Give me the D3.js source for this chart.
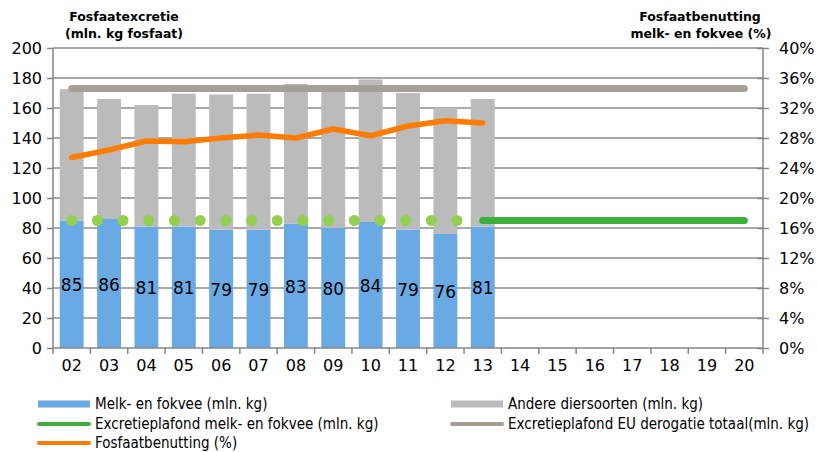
<!DOCTYPE html>
<html>
<head>
<meta charset="utf-8">
<script src="https://cdn.jsdelivr.net/npm/d3@7"></script>
<style>
  body { margin: 0; background: #fff; }
  svg { display: block; }
</style>
</head>
<body>
<script>
// data
let years = ["02","03","04","05","06","07","08","09","10","11","12","13","14","15","16","17","18","19","20"];
let melkVee = [85, 86, 81, 81, 79, 79, 83, 80, 84, 79, 76, 81];
let andere = [87.5, 80, 81, 88.5, 90, 90.5, 93, 95, 95, 91, 84, 85];
let benutting = [25.4, 26.4, 27.6, 27.5, 28.0, 28.4, 28.0, 29.2, 28.3, 29.6, 30.3, 30.0];
let plafondMelk = 85;
let plafondEU = 173;
let leftTicks = [0, 20, 40, 60, 80, 100, 120, 140, 160, 180, 200];
let rightTicks = [0, 4, 8, 12, 16, 20, 24, 28, 32, 36, 40];

let W = 818, H = 452;
let m = {left: 53, right: 763, top: 48, bottom: 348};
let font = "Verdana, 'DejaVu Sans', sans-serif";

let svg = d3.select("body").append("svg").attr("width", W).attr("height", H);

let x = d3.scaleBand().domain(years).range([m.left, m.right]).paddingInner(0.36).paddingOuter(0.18);
let xc = d => x(d) + x.bandwidth() / 2;
let y = d3.scaleLinear().domain([0, 200]).range([m.bottom, m.top]);
let y2 = d3.scaleLinear().domain([0, 40]).range([m.bottom, m.top]);

// gridlines
svg.append("g").selectAll("line").data(leftTicks.slice(1)).enter().append("line")
    .attr("x1", m.left).attr("x2", m.right)
    .attr("y1", d => y(d)).attr("y2", d => y(d))
    .attr("stroke", "#8c8c8c").attr("stroke-width", 1.5);

// bars
let bars = svg.append("g");
bars.selectAll("rect.melk").data(melkVee).enter().append("rect")
    .attr("x", (d, i) => x(years[i])).attr("width", x.bandwidth())
    .attr("y", d => y(d)).attr("height", d => y(0) - y(d))
    .attr("fill", "#6aaae4");
bars.selectAll("rect.andere").data(andere).enter().append("rect")
    .attr("x", (d, i) => x(years[i])).attr("width", x.bandwidth())
    .attr("y", (d, i) => y(d + melkVee[i])).attr("height", d => y(0) - y(d))
    .attr("fill", "#bbbbbb");

// axes
let yAxis = svg.append("g").attr("transform", `translate(${m.left},0)`)
    .call(d3.axisLeft(y).tickValues(leftTicks).tickSize(6).tickPadding(5));
let yAxis2 = svg.append("g").attr("transform", `translate(${m.right},0)`)
    .call(d3.axisRight(y2).tickValues(rightTicks).tickSize(6).tickPadding(10).tickFormat(d => d + "%"));
let xAxis = svg.append("g").attr("transform", `translate(0,${m.bottom})`)
    .call(d3.axisBottom(x).tickSize(0).tickPadding(12));
[yAxis, yAxis2, xAxis].forEach(g => {
    g.selectAll("path, line").attr("stroke", "#868686").attr("stroke-width", 1.5);
    g.selectAll("text").attr("font-family", font).attr("font-size", 16).attr("fill", "#000");
});
yAxis.select(".domain").attr("d", `M0,${m.top}V${m.bottom}`);
yAxis2.select(".domain").attr("d", `M0,${m.top}V${m.bottom}`);
xAxis.select(".domain").attr("d", `M${m.left},0H${m.right}`);
yAxis2.selectAll("line").attr("x1", -6).attr("x2", 6);
// x tick marks between categories
xAxis.append("g").selectAll("line").data(d3.range(years.length + 1)).enter().append("line")
    .attr("x1", i => m.left + i * (m.right - m.left) / years.length)
    .attr("x2", i => m.left + i * (m.right - m.left) / years.length)
    .attr("y1", 0).attr("y2", 6)
    .attr("stroke", "#868686").attr("stroke-width", 1.5);

// EU plafond line
let line = d3.line().x(d => xc(d[0])).y(d => d[1]);
svg.append("path")
    .attr("d", line(years.map(d => [d, y(plafondEU)])))
    .attr("fill", "none").attr("stroke", "#a69f97").attr("stroke-width", 7).attr("stroke-linecap", "round");

// melk plafond: dotted through 13, solid after
let solidYears = years.slice(11);
svg.append("path")
    .attr("d", line(solidYears.map(d => [d, y(plafondMelk)])))
    .attr("fill", "none").attr("stroke", "#3cb03a").attr("stroke-width", 7).attr("stroke-linecap", "round");
let dotYears = years.slice(0, 12);
svg.append("path")
    .attr("d", line(dotYears.map(d => [d, y(plafondMelk)])))
    .attr("fill", "none").attr("stroke", "#92d050").attr("stroke-width", 11)
    .attr("stroke-linecap", "round").attr("stroke-dasharray", "0," + ((xc("13") - xc("02")) / 16).toFixed(3));

// benutting line
svg.append("path")
    .attr("d", line(benutting.map((v, i) => [years[i], y2(v)])))
    .attr("fill", "none").attr("stroke", "#ff7c00").attr("stroke-width", 5.5)
    .attr("stroke-linecap", "round").attr("stroke-linejoin", "round");

// bar labels
svg.append("g").selectAll("text").data(melkVee).enter().append("text")
    .attr("x", (d, i) => xc(years[i]))
    .attr("y", d => y(d / 2) + 7)
    .attr("text-anchor", "middle")
    .attr("font-family", font).attr("font-size", 17)
    .text(d => d);

// titles
let t1 = svg.append("text").attr("font-family", font).attr("font-weight", "bold").attr("font-size", 12.5).attr("text-anchor", "middle");
t1.append("tspan").attr("x", 124).attr("y", 21).text("Fosfaatexcretie");
t1.append("tspan").attr("x", 124).attr("y", 38).text("(mln. kg fosfaat)");
let t2 = svg.append("text").attr("font-family", font).attr("font-weight", "bold").attr("font-size", 12.5).attr("text-anchor", "middle");
t2.append("tspan").attr("x", 700).attr("y", 21).text("Fosfaatbenutting");
t2.append("tspan").attr("x", 701).attr("y", 38).text("melk- en fokvee  (%)");

// legend
let legendItems = [
    {label: "Melk- en fokvee (mln. kg)", type: "rect", color: "#6aaae4", x: 38, y: 404},
    {label: "Andere diersoorten (mln. kg)", type: "rect", color: "#bbbbbb", x: 451, y: 404},
    {label: "Excretieplafond melk- en fokvee (mln. kg)", type: "line", color: "#3cb03a", x: 38, y: 424},
    {label: "Excretieplafond EU derogatie totaal(mln. kg)", type: "line", color: "#a69f97", x: 451, y: 424},
    {label: "Fosfaatbenutting (%)", type: "line", color: "#ff7c00", x: 38, y: 443}
];
let lg = svg.append("g").selectAll("g").data(legendItems).enter().append("g");
lg.filter(d => d.type === "rect").append("rect")
    .attr("x", d => d.x).attr("y", d => d.y - 3.5).attr("width", 52).attr("height", 7).attr("fill", d => d.color);
lg.filter(d => d.type === "line").append("line")
    .attr("x1", d => d.x + 1).attr("x2", d => d.x + 51).attr("y1", d => d.y).attr("y2", d => d.y)
    .attr("stroke", d => d.color).attr("stroke-width", 4).attr("stroke-linecap", "round");
lg.append("text")
    .attr("x", d => d.x + 57).attr("y", d => d.y + 5)
    .attr("font-family", "'Liberation Sans Narrow', 'DejaVu Sans Condensed', sans-serif")
    .attr("font-size", 15)
    .text(d => d.label);
</script>
</body>
</html>
